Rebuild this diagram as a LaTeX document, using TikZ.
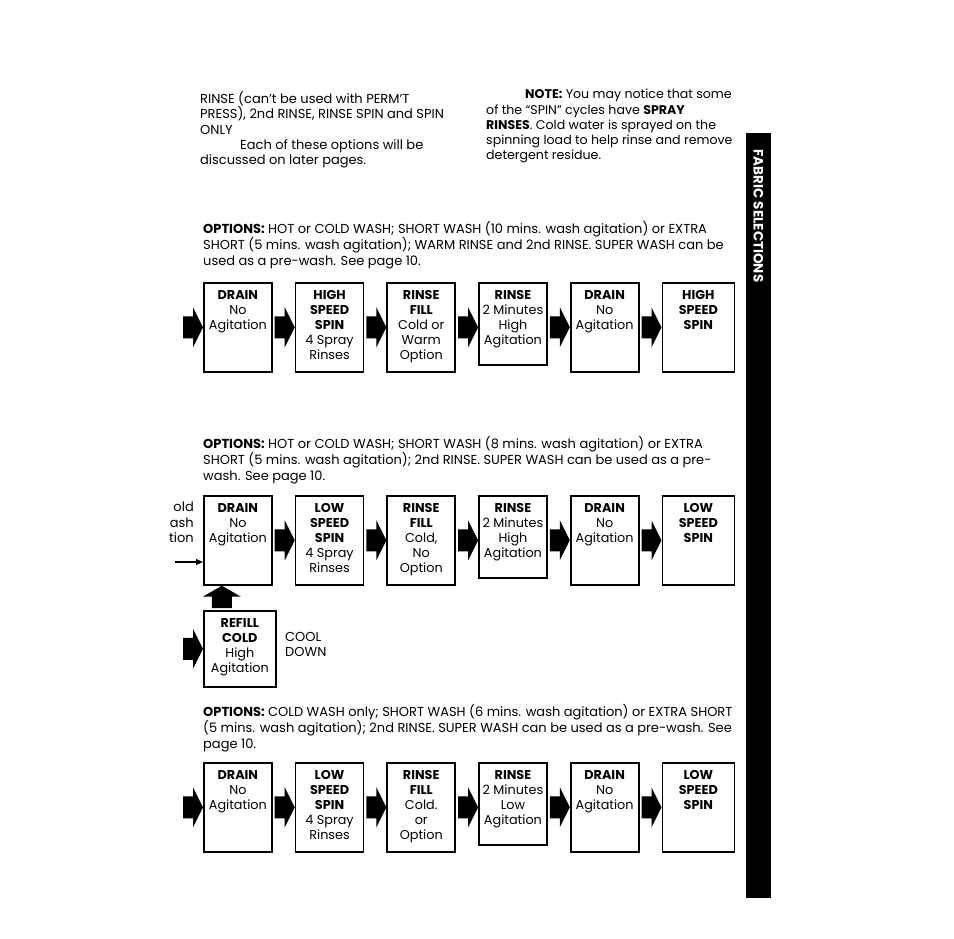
\documentclass[tikz,border=0pt]{standalone}
\usepackage{fontspec}
\setmainfont{Poppins}
\usetikzlibrary{arrows.meta, positioning, calc}
\newcommand{\boxfont}{\fontsize{12.8}{15}\selectfont}
\newcommand{\bodyfont}{\fontsize{13}{15.4}\selectfont}
\newcommand{\stagetxt}[2][73pt]{\parbox[t][#1][t]{66pt}{\centering #2}}
\begin{document}
\begin{tikzpicture}[
  x=1pt, y=-1pt,
  stage/.style={draw, line width=1.7pt, inner xsep=0pt, inner ysep=8pt,
                minimum width=68pt, anchor=north west, font=\boxfont},
  nextto/.style={right=22pt of #1.north east, anchor=north west},
  para/.style={inner sep=0pt, anchor=north west, align=left, font=\bodyfont},
  blockarr/.style={fill=black, to path={
      let \p1=(\tikztostart), \p2=(\tikztotarget) in
      (\x1+2pt,\y1+11pt) -- (\x2-10pt,\y1+11pt) -- (\x2-10pt,\y1+20pt)
      -- (\x2,\y1) -- (\x2-10pt,\y1-20pt) -- (\x2-10pt,\y1-11pt)
      -- (\x1+2pt,\y1-11pt) -- cycle}},
  blockup/.style={fill=black, to path={
      let \p1=(\tikztostart), \p2=(\tikztotarget) in
      (\x1-10pt,\y1+2pt) -- (\x1-10pt,\y2-11pt) -- (\x1-19pt,\y2-11pt)
      -- (\x1,\y2) -- (\x1+19pt,\y2-11pt) -- (\x1+10pt,\y2-11pt)
      -- (\x1+10pt,\y1+2pt) -- cycle}},
  thinarr/.style={-{Triangle[length=7pt,width=6pt]}, line width=1.2pt}
]
\useasboundingbox[fill=white] (0,0) rectangle (954,939);

% text at the top
\node[para] (intro) at (200,91)
  {RINSE (can't be used with PERM'T\\
   PRESS), 2nd RINSE, RINSE SPIN and SPIN\\
   ONLY\\
   \hspace*{40pt}Each of these options will be\\
   discussed on later pages.};
\node[para, font=\fontsize{12.6}{15.3}\selectfont] (note) at (486,89)
  {\hspace*{39pt}\textbf{NOTE:} You may notice that some\\
   of the ``SPIN'' cycles have \textbf{SPRAY}\\
   \textbf{RINSES}. Cold water is sprayed on the\\
   spinning load to help rinse and remove\\
   detergent residue.};

% side tab
\fill (746,133) rectangle (771,898);
\node[rotate=-90, text=white, font=\bfseries\fontsize{13.5}{14}\selectfont]
  (tab) at (758.5,216) {FABRIC SELECTIONS};

% first cycle
\node[para] (opt1) at (203,221)
  {\textbf{OPTIONS:} HOT or COLD WASH; SHORT WASH (10 mins. wash agitation) or EXTRA\\
   SHORT (5 mins. wash agitation); WARM RINSE and 2nd RINSE. SUPER WASH can be\\
   used as a pre-wash. See page 10.};
\node[stage] (a1) at (203,282) {\stagetxt{\textbf{DRAIN}\\No\\Agitation}};
\node[stage, nextto=a1] (a2) {\stagetxt{\textbf{HIGH}\\\textbf{SPEED}\\\textbf{SPIN}\\4 Spray\\Rinses}};
\node[stage, nextto=a2] (a3) {\stagetxt{\textbf{RINSE}\\\textbf{FILL}\\Cold or\\Warm\\Option}};
\node[stage, nextto=a3] (a4) {\stagetxt[66pt]{\textbf{RINSE}\\2 Minutes\\High\\Agitation}};
\node[stage, nextto=a4] (a5) {\stagetxt{\textbf{DRAIN}\\No\\Agitation}};
\node[stage, nextto=a5, minimum width=72pt] (a6) {\stagetxt{\textbf{HIGH}\\\textbf{SPEED}\\\textbf{SPIN}}};
\coordinate (ain) at ([xshift=-22pt]a1.west);
\path[blockarr] (ain) to (a1.west);
\foreach \a/\b in {a1/a2,a2/a3,a3/a4,a5/a6}
  \path[blockarr] (\a.east) to (\b.west);
\path[blockarr] (a4.east |- a5.west) to (a5.west);

% second cycle
\node[para] (opt2) at (203,436)
  {\textbf{OPTIONS:} HOT or COLD WASH; SHORT WASH (8 mins. wash agitation) or EXTRA\\
   SHORT (5 mins. wash agitation); 2nd RINSE. SUPER WASH can be used as a pre-\\
   wash. See page 10.};
\node[stage] (b1) at (203,495) {\stagetxt{\textbf{DRAIN}\\No\\Agitation}};
\node[stage, nextto=b1] (b2) {\stagetxt{\textbf{LOW}\\\textbf{SPEED}\\\textbf{SPIN}\\4 Spray\\Rinses}};
\node[stage, nextto=b2] (b3) {\stagetxt{\textbf{RINSE}\\\textbf{FILL}\\Cold,\\No\\Option}};
\node[stage, nextto=b3] (b4) {\stagetxt[66pt]{\textbf{RINSE}\\2 Minutes\\High\\Agitation}};
\node[stage, nextto=b4] (b5) {\stagetxt{\textbf{DRAIN}\\No\\Agitation}};
\node[stage, nextto=b5, minimum width=72pt] (b6) {\stagetxt{\textbf{LOW}\\\textbf{SPEED}\\\textbf{SPIN}}};
\foreach \a/\b in {b1/b2,b2/b3,b3/b4,b5/b6}
  \path[blockarr] (\a.east) to (\b.west);
\path[blockarr] (b4.east |- b5.west) to (b5.west);
% cut-off words at the page edge
\node[para, anchor=north east, align=right] (cut) at (194,502) {old\\ash\\tion};
\coordinate (cw) at (175,562);
\draw[thinarr] (cw) -- (cw -| b1.west);

% cool down
\node[stage, minimum width=72pt] (rf) at (203,610)
  {\stagetxt[60pt]{\textbf{REFILL}\\\textbf{COLD}\\High\\Agitation}};
\node[para] (cool) at (285,632) {COOL\\DOWN};
\coordinate (rfin) at ([xshift=-22pt]rf.west);
\path[blockarr] (rfin) to (rf.west);
\coordinate (up) at ([xshift=-18pt]rf.north);
\path[blockup] (up) to (up |- b1.south);

% third cycle
\node[para] (opt3) at (203,704)
  {\textbf{OPTIONS:} COLD WASH only; SHORT WASH (6 mins. wash agitation) or EXTRA SHORT\\
   (5 mins. wash agitation); 2nd RINSE. SUPER WASH can be used as a pre-wash. See\\
   page 10.};
\node[stage] (c1) at (203,762) {\stagetxt{\textbf{DRAIN}\\No\\Agitation}};
\node[stage, nextto=c1] (c2) {\stagetxt{\textbf{LOW}\\\textbf{SPEED}\\\textbf{SPIN}\\4 Spray\\Rinses}};
\node[stage, nextto=c2] (c3) {\stagetxt{\textbf{RINSE}\\\textbf{FILL}\\Cold.\\or\\Option}};
\node[stage, nextto=c3] (c4) {\stagetxt[66pt]{\textbf{RINSE}\\2 Minutes\\Low\\Agitation}};
\node[stage, nextto=c4] (c5) {\stagetxt{\textbf{DRAIN}\\No\\Agitation}};
\node[stage, nextto=c5, minimum width=72pt] (c6) {\stagetxt{\textbf{LOW}\\\textbf{SPEED}\\\textbf{SPIN}}};
\coordinate (cin) at ([xshift=-22pt]c1.west);
\path[blockarr] (cin) to (c1.west);
\foreach \a/\b in {c1/c2,c2/c3,c3/c4,c5/c6}
  \path[blockarr] (\a.east) to (\b.west);
\path[blockarr] (c4.east |- c5.west) to (c5.west);
\end{tikzpicture}
\end{document}
